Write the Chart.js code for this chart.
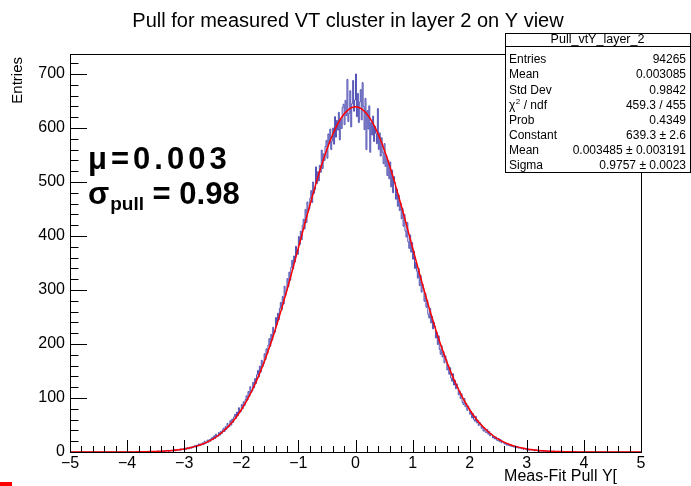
<!DOCTYPE html>
<html>
<head>
<meta charset="utf-8">
<script src="https://cdn.jsdelivr.net/npm/chart.js@4.4.1/dist/chart.umd.min.js"></script>
<style>
  html, body { margin: 0; padding: 0; background: #fff; }
</style>
</head>
<body>
<canvas id="chart" width="691" height="486"></canvas>
<script>
// histogram: 600 bins of width 1/60 between -5 and 5 (counts)
const binLow = -5, binHigh = 5;
const countsNeg = [ // -5 .. 0
  0,0,0,0,0,0, 0,0,0,0,0,0, 0,0,0,0,0,0, 0,0,0,0,0,0, 0,0,0,0,0,0,
  0,0,0,0,0,0, 0,0,0,0,0,0, 0,0,0,0,0,0, 0,0,0,0,0,0, 0,0,0,0,0,0,
  0,0,0,0,1,0, 0,0,0,0,0,0, 0,0,1,0,0,0, 1,0,0,0,1,0, 0,1,0,0,1,1,
  1,0,1,2,0,1, 1,1,2,1,2,1, 2,3,1,2,2,3, 2,3,5,2,4,3, 4,5,3,6,4,5,
  6,4,7,5,8,6, 6,9,7,10,8,11, 12,9,13,11,15,12, 15,13,17,14,20,16, 17,22,18,23,20,25,
  27,23,30,25,33,28, 29,36,31,38,34,41, 44,38,47,42,53,46, 47,58,50,61,55,65, 70,62,74,67,82,73,
  75,88,80,93,86,97, 104,96,112,103,121,110, 113,129,119,136,127,143, 151,139,159,148,170,158, 163,182,171,191,182,198,
  210,196,218,207,231,219, 222,249,236,257,245,266, 277,263,288,274,307,290, 298,321,306,333,318,342, 355,339,363,352,381,368,
  366,399,384,409,393,420, 431,413,449,425,463,446, 451,470,484,462,500,479, 486,528,497,519,502,531, 518,559,525,552,540,566,
  577,544,589,571,598,560, 576,600,570,621,583,614, 596,629,578,617,599,638, 644,606,651,623,690,612, 627,669,602,645,688,631
];
const countsPos = [ // 0 .. 5
  652,700,621,664,610,648, 671,615,684,640,597,655, 560,632,598,641,555,610, 587,622,575,603,590,571, 636,560,591,548,582,555,
  534,571,529,549,512,540, 506,537,491,522,480,510, 499,468,487,455,476,447, 461,432,451,418,440,409, 398,425,389,377,402,370,
  388,357,372,340,351,335, 322,340,308,327,296,311, 303,279,294,268,281,255, 248,266,239,251,228,240, 233,211,222,199,215,190,
  181,197,176,186,165,178, 171,152,161,144,156,137, 131,145,124,133,117,126, 120,106,113,99,108,92, 88,99,84,90,77,85,
  81,70,75,63,71,60, 57,66,54,59,49,55, 52,44,48,39,45,37, 36,42,33,38,30,34, 32,26,29,24,28,22,
  21,25,19,23,17,20, 19,15,17,13,16,12, 14,11,13,10,12,9, 9,11,8,10,7,8, 8,6,7,5,7,6,
  4,6,5,3,5,4, 5,3,4,2,4,3, 2,3,1,3,2,2, 1,2,2,1,2,1, 2,1,0,1,1,2,
  0,1,1,0,1,0, 1,0,0,1,0,0, 0,0,1,0,0,0, 0,0,0,0,1,0, 0,0,0,0,0,0,
  0,1,0,0,0,0, 0,0,0,0,0,0, 0,0,0,0,0,0, 0,0,0,0,0,0, 0,0,0,0,0,0,
  0,0,0,0,0,0, 0,0,0,0,0,0, 0,0,0,0,0,0, 0,0,0,0,0,0, 0,0,0,0,0,0
];

// gaussian fit curve, sampled every 0.1 from -5 to 5
const fitStep = 0.1;
const fitValues = [
  0,0,0,0,0,0,0,0,0.1,0.1,
  0.1,0.2,0.3,0.5,0.7,1.0,1.5,2.1,3.0,4.1,
  5.7,7.7,10.4,13.9,18.4,24.0,31.0,39.7,50.3,63.1,
  78.2,96.0,116.6,140.1,166.6,196.1,228.4,263.2,300.1,338.6,
  378.1,417.8,456.8,494.2,529.2,560.6,587.8,609.8,626.0,635.9,
  639.3,
  635.9,626.0,609.8,587.8,560.6,529.2,494.2,456.8,417.8,378.1,
  338.6,300.1,263.2,228.4,196.1,166.6,140.1,116.6,96.0,78.2,
  63.1,50.3,39.7,31.0,24.0,18.4,13.9,10.4,7.7,5.7,
  4.1,3.0,2.1,1.5,1.0,0.7,0.5,0.3,0.2,0.1,
  0.1,0.1,0,0,0,0,0,0,0,0
];

const xTicks = [-5, -4, -3, -2, -1, 0, 1, 2, 3, 4, 5];
const yTicks = [0, 100, 200, 300, 400, 500, 600, 700];
const yMax = 737;

const titleText = "Pull for measured VT cluster in layer 2 on Y view";
const statsTitle = "Pull_vtY_layer_2";
const statsLabels = ["Entries", "Mean", "Std Dev", "χ2 / ndf", "Prob", "Constant", "Mean", "Sigma"];
const statsValues = ["94265", "0.003085", "0.9842", "459.3 / 455", "0.4349", "639.3 ± 2.6", "0.003485 ± 0.003191", "0.9757 ± 0.0023"];

const FONT = '"Liberation Sans", Arial, Helvetica, sans-serif';

const counts = countsNeg.concat(countsPos);
const binW = (binHigh - binLow) / counts.length;
const histPts = counts.map((c, i) => ({ x: binLow + i * binW, y: c }));
histPts.push({ x: binHigh, y: counts[counts.length - 1] });
const fitPts = fitValues.map((v, i) => ({ x: binLow + i * fitStep, y: v }));

const fmt = v => (v < 0 ? "\u2212" + Math.abs(v) : String(v));

// ROOT-like frame, inward ticks and text
const rootDecor = {
  id: "rootDecor",
  afterDraw(chart) {
    const { ctx, chartArea: a, scales: { x, y } } = chart;
    ctx.save();
    ctx.strokeStyle = "#000";
    ctx.lineWidth = 1;
    ctx.strokeRect(a.left + 0.5, a.top + 0.5, a.right - a.left, a.bottom - a.top);

    ctx.beginPath();
    for (let i = 0; i <= 50; i++) {
      const px = Math.round(x.getPixelForValue(binLow + i * 0.2)) + 0.5;
      const len = i % 5 === 0 ? 12 : 6;
      ctx.moveTo(px, a.bottom);
      ctx.lineTo(px, a.bottom - len);
    }
    for (let v = 0; v <= yMax; v += 20) {
      const py = Math.round(y.getPixelForValue(v)) + 0.5;
      const len = v % 100 === 0 ? 17 : 8.5;
      ctx.moveTo(a.left, py);
      ctx.lineTo(a.left + len, py);
    }
    ctx.stroke();

    // title
    ctx.fillStyle = "#000";
    ctx.font = "20px " + FONT;
    ctx.textAlign = "center";
    ctx.textBaseline = "middle";
    ctx.fillText(titleText, 348, 21);

    // axis titles
    ctx.font = "16px " + FONT;
    ctx.textAlign = "right";
    ctx.fillText("Meas-Fit Pull Y[", 617, 477);
    ctx.font = "15px " + FONT;
    ctx.save();
    ctx.translate(18, 57);
    ctx.rotate(-Math.PI / 2);
    ctx.fillText("Entries", 0, 0);
    ctx.restore();

    // stats box
    const bx = 505, by = 33, bw = 185, bh = 139;
    ctx.fillStyle = "#fff";
    ctx.fillRect(bx, by, bw, bh);
    ctx.strokeRect(bx + 0.5, by + 0.5, bw, bh);
    ctx.beginPath();
    ctx.moveTo(bx, by + 13.5);
    ctx.lineTo(bx + bw, by + 13.5);
    ctx.stroke();
    ctx.fillStyle = "#000";
    ctx.font = "12.5px " + FONT;
    ctx.textAlign = "center";
    ctx.fillText(statsTitle, bx + bw / 2, by + 7);
    ctx.font = "12px " + FONT;
    statsLabels.forEach((lab, i) => {
      const ry = 60 + i * 15.1;
      ctx.textAlign = "left";
      if (lab.startsWith("χ2")) {
        ctx.fillText("χ", bx + 4, ry);
        const w = ctx.measureText("χ").width;
        ctx.font = "8px " + FONT;
        ctx.fillText("2", bx + 4 + w + 0.5, ry - 4);
        ctx.font = "12px " + FONT;
        ctx.fillText(" / ndf", bx + 4 + w + 5, ry);
      } else {
        ctx.fillText(lab, bx + 4, ry);
      }
      ctx.textAlign = "right";
      ctx.fillText(statsValues[i], bx + bw - 4, ry);
    });

    // fit summary text
    ctx.textAlign = "left";
    ctx.textBaseline = "alphabetic";
    ctx.font = "bold 31px " + FONT;
    ctx.letterSpacing = "4px";
    ctx.fillText("μ=0.003", 88, 169);
    ctx.letterSpacing = "0px";
    ctx.fillText("σ", 88, 204);
    let cx = 88 + ctx.measureText("σ").width;
    ctx.font = "bold 19px " + FONT;
    ctx.fillText("pull", cx + 1, 210);
    cx += ctx.measureText("pull").width + 1;
    ctx.font = "bold 31px " + FONT;
    ctx.fillText(" = 0.98", cx, 204);

    // stray red mark in the lower left corner
    ctx.fillStyle = "#ff0000";
    ctx.fillRect(0, 482, 12, 4);
    ctx.restore();
  }
};

new Chart(document.getElementById("chart").getContext("2d"), {
  type: "line",
  data: {
    datasets: [
      { label: "fit", data: fitPts, borderColor: "#ff0000", borderWidth: 1.5,
        pointRadius: 0, cubicInterpolationMode: "monotone", fill: false },
      { label: "hist", data: histPts, borderColor: "#5050b4", borderWidth: 1,
        pointRadius: 0, stepped: "after", fill: false }
    ]
  },
  options: {
    responsive: false,
    animation: false,
    events: [],
    layout: { padding: { left: 0, right: 50, top: 54, bottom: 0 } },
    plugins: { legend: { display: false }, tooltip: { enabled: false }, title: { display: false } },
    scales: {
      x: {
        type: "linear", min: binLow, max: binHigh,
        afterBuildTicks: s => { s.ticks = xTicks.map(v => ({ value: v })); },
        afterFit: s => { s.height = 34; },
        grid: { display: false, drawTicks: false },
        border: { display: false },
        ticks: { callback: fmt, color: "#000", font: { family: FONT, size: 16 }, padding: 2, maxRotation: 0, autoSkip: false }
      },
      y: {
        type: "linear", min: 0, max: yMax,
        afterBuildTicks: s => { s.ticks = yTicks.map(v => ({ value: v })); },
        afterFit: s => { s.width = 70; },
        grid: { display: false, drawTicks: false },
        border: { display: false },
        ticks: { color: "#000", font: { family: FONT, size: 16 }, padding: 5, autoSkip: false }
      }
    }
  },
  plugins: [rootDecor]
});
</script>
</body>
</html>
